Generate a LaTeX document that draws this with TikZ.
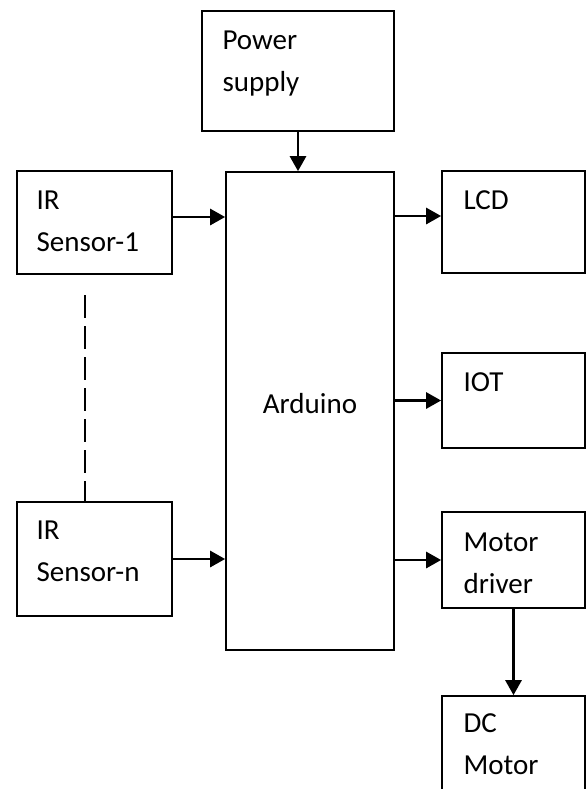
\documentclass[tikz,border=0pt]{standalone}
\usepackage{fontspec}
\setmainfont{Carlito}
\usetikzlibrary{arrows.meta}
\usetikzlibrary{math}

\newcommand{\boxtext}[2]{\begin{tabular}[t]{@{}l@{}}#1\\#2\end{tabular}}

\tikzset{
blk/.style={draw, rectangle, line width=0.85pt, inner sep=0pt},
lbl/.style={inner sep=0pt, anchor=base west, font=\fontsize{14.5}{21}\selectfont},
arr/.style={-{Triangle[length=7.5pt,width=8pt]}, line width=1.4pt},
}

\begin{document}
\begin{tikzpicture}[x=0.5pt, y=-0.5pt]
\tikzmath{
\cx=513.5;
}
\useasboundingbox (0,0) rectangle (586,789);

% blocks
\node[blk, minimum width=96pt, minimum height=60pt] (ps) at (298,71) {};
\node[blk, minimum width=84pt, minimum height=239pt] (ard) at (310,411) {};
\node[blk, minimum width=77.5pt, minimum height=51.5pt] (ir1) at (94.5,222.5) {};
\node[blk, minimum width=77.5pt, minimum height=57pt] (irn) at (94.5,559) {};
\node[blk, minimum width=71.5pt, minimum height=51pt] (lcd) at (\cx,222) {};
\node[blk, minimum width=71.5pt, minimum height=47.5pt] (iot) at (\cx,400.5) {};
\node[blk, minimum width=71.5pt, minimum height=48pt] (md) at (\cx,560) {};
\node[blk, minimum width=71.5pt, minimum height=60pt] (dc) at (\cx,756) {};

% texts
\node[lbl] (pst) at ([shift={(21,39)}]ps.north west) {\boxtext{Power}{supply}};
\node[lbl] (ir1t) at ([shift={(20,39)}]ir1.north west) {\boxtext{IR}{Sensor-1}};
\node[lbl] (irnt) at ([shift={(20,38)}]irn.north west) {\boxtext{IR}{Sensor-n}};
\node[lbl] (lcdt) at ([shift={(22,39)}]lcd.north west) {LCD};
\node[lbl] (iott) at ([shift={(22,39)}]iot.north west) {IOT};
\node[lbl] (mdt) at ([shift={(22,40)}]md.north west) {\boxtext{Motor}{driver}};
\node[lbl] (dct) at ([shift={(22,37)}]dc.north west) {\boxtext{DC}{Motor}};
\node[lbl, anchor=base] (ardt) at ([yshift=-1pt]ard.center) {Arduino};

% arrows
\coordinate (a1) at ([yshift=2.75pt]ir1.east);
\coordinate (a2) at ([yshift=3pt]lcd.west);
\draw[arr] (ps.south) -- (ps.south |- ard.north);
\draw[arr] (a1) -- (a1 -| ard.west);
\draw[arr] (irn.east) -- (irn.east -| ard.west);
\draw[arr] (a2 -| ard.east) -- (a2);
\draw[arr] (iot.west -| ard.east) -- (iot.west);
\draw[arr] (md.west -| ard.east) -- (md.west);
\draw[arr] (md.south) -- (dc.north);

% dashed link between the sensors
\coordinate (dtop) at (85,295);
\draw[line width=0.75pt, dash pattern=on 11.5pt off 4pt] (dtop) -- (dtop |- irn.north);
\end{tikzpicture}
\end{document}
